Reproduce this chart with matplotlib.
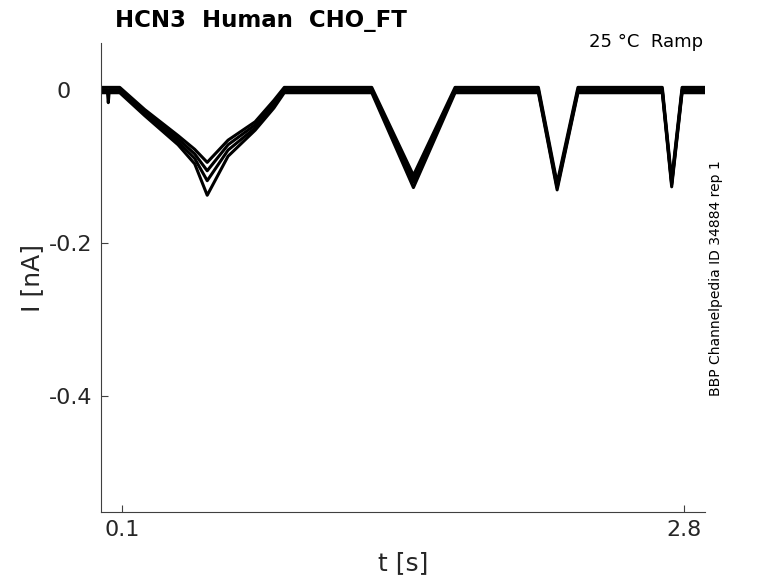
import numpy as np
import matplotlib
matplotlib.use('Agg')
from matplotlib import pyplot as plt

plt.rcParams['font.family'] = 'DejaVu Sans'
plt.rcParams['axes.unicode_minus'] = False

# ramp protocol breakpoints (s), shared by all sweeps
t_pts = [0.0, 0.03, 0.035, 0.04, 0.09, 0.21, 0.37, 0.45, 0.51, 0.61, 0.74, 0.83, 0.88,
         1.30, 1.50, 1.70, 2.10, 2.19, 2.29, 2.695, 2.74, 2.79, 2.9]

# current at each breakpoint (nA), one row per sweep
sweep1 = [0.003, 0.003, 0.003, 0.003, 0.003, -0.026, -0.060, -0.078, -0.095,
          -0.066, -0.042, -0.014, 0.003,
          0.003, -0.112, 0.003, 0.003, -0.122, 0.003, 0.003, -0.118, 0.003, 0.003]
sweep2 = [0.000, 0.000, -0.017, 0.000, 0.000, -0.029, -0.064, -0.084, -0.106,
          -0.072, -0.046, -0.018, 0.000,
          0.000, -0.117, 0.000, 0.000, -0.126, 0.000, 0.000, -0.122, 0.000, 0.000]
sweep3 = [-0.002, -0.002, -0.002, -0.002, -0.002, -0.031, -0.068, -0.090, -0.119,
          -0.079, -0.050, -0.021, -0.002,
          -0.002, -0.121, -0.002, -0.002, -0.128, -0.002, -0.002, -0.124, -0.002, -0.002]
sweep4 = [-0.004, -0.004, -0.004, -0.004, -0.004, -0.034, -0.072, -0.097, -0.138,
          -0.087, -0.053, -0.024, -0.004,
          -0.004, -0.128, -0.004, -0.004, -0.131, -0.004, -0.004, -0.127, -0.004, -0.004]
sweeps = [sweep1, sweep2, sweep3, sweep4]

x_ticks = [0.1, 2.8]
y_ticks = [-0.4, -0.2, 0]
y_labels = ['-0.4', '-0.2', '0   ']

fig = plt.figure(figsize=(7.78, 5.83), dpi=100)
ax = fig.add_axes([101/778, 1-512/583, 604/778, 469/583])

for s in sweeps:
    ax.plot(t_pts, s, color='k', lw=2.2)

ax.set_xlim(0, 2.9)
ax.set_ylim(-0.552, 0.061)
ax.set_xticks(x_ticks)
ax.set_xticklabels(['0.1', '2.8'])
ax.set_yticks(y_ticks)
ax.set_yticklabels(y_labels)
ax.tick_params(direction='in', length=5, width=0.8, color='#404040',
               labelsize=16, labelcolor='#262626', pad=6)
for side in ['top', 'right']:
    ax.spines[side].set_visible(False)
for side in ['left', 'bottom']:
    ax.spines[side].set_color('#404040')
    ax.spines[side].set_linewidth(0.8)

ax.set_xlabel('t [s]', fontsize=18, color='#262626', labelpad=8)
ax.set_ylabel('I [nA]', fontsize=18, color='#262626', labelpad=4)

fig.text(115/778, 1-27/583, 'HCN3  Human  CHO_FT', fontsize=16.5,
         fontweight='bold', ha='left', va='baseline')
fig.text(703/778, 1-47/583, '25 °C  Ramp', fontsize=13, ha='right', va='baseline')
fig.text(716/778, 1-278/583, 'BBP Channelpedia ID 34884 rep 1', fontsize=10,
         rotation=90, ha='center', va='center')

fig.savefig('out.png', dpi=100)
